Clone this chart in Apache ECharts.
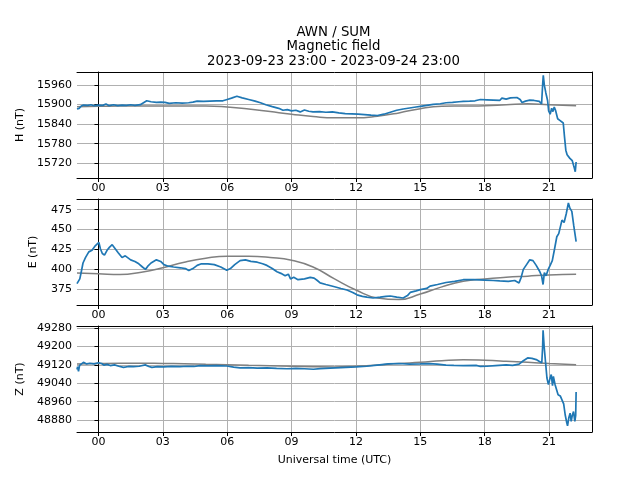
<!DOCTYPE html>
<html><head><meta charset="utf-8">
<script src="https://cdn.jsdelivr.net/npm/echarts@6/dist/echarts.min.js"></script>
<style>html,body{margin:0;padding:0;background:#fff}#c{width:640px;height:480px}</style>
</head><body><div id="c"></div>
<script>
// time in hours relative to 2023-09-24 00:00 UTC
const titleLines = ['AWN / SUM', 'Magnetic field', '2023-09-23 23:00 - 2023-09-24 23:00'];
const xTicks = [0, 3, 6, 9, 12, 15, 18, 21];
const hTicks = [15720, 15780, 15840, 15900, 15960];
const eTicks = [375, 400, 425, 450, 475];
const zTicks = [48880, 48960, 49040, 49120, 49200, 49280];

const hTimes = [-1.00,-0.95,-0.90,-0.80,-0.70,-0.62,-0.50,-0.35,-0.20,0.00,0.20,0.35,0.50,0.70,0.90,1.10,1.30,1.50,1.70,1.95,2.10,2.25,2.45,2.70,2.90,3.10,3.30,3.60,3.90,4.20,4.40,4.60,4.90,5.20,5.50,5.80,6.00,6.20,6.45,6.70,7.00,7.30,7.55,7.80,8.10,8.40,8.60,8.80,9.00,9.20,9.40,9.60,9.80,10.00,10.30,10.60,10.90,11.20,11.50,11.80,12.10,12.40,12.70,13.00,13.30,13.60,13.90,14.20,14.50,14.80,15.00,15.30,15.60,15.93,16.20,16.50,16.80,17.00,17.30,17.55,17.60,17.80,18.10,18.40,18.70,18.80,19.00,19.20,19.50,19.65,19.74,19.90,20.10,20.30,20.55,20.65,20.70,20.73,20.78,20.85,20.93,20.98,21.05,21.12,21.18,21.24,21.30,21.40,21.50,21.58,21.66,21.72,21.78,21.84,21.90,21.97,22.02,22.08,22.14,22.18,22.22,22.26];
const hValues = [15886,15892,15888,15895,15898,15903,15897,15899,15896,15898,15897,15901,15896,15899,15896,15898,15897,15899,15897,15899,15905,15911,15908,15906,15907,15906,15903,15905,15904,15905,15907,15910,15909,15910,15911,15911,15915,15919,15925,15920,15915,15910,15905,15899,15893,15888,15882,15884,15880,15882,15877,15883,15879,15877,15878,15876,15877,15874,15872,15871,15870,15869,15867,15866,15870,15876,15882,15886,15889,15892,15894,15897,15900,15902,15905,15906,15908,15909,15910,15911,15917,15915,15914,15913,15912,15919,15916,15920,15921,15915,15906,15910,15913,15912,15909,15901,15960,15989,15958,15935,15912,15880,15870,15888,15878,15892,15882,15856,15851,15848,15843,15800,15760,15746,15740,15735,15738,15728,15714,15705,15694,15724];

const eTimes = [-1.00,-0.93,-0.87,-0.80,-0.72,-0.60,-0.45,-0.30,-0.14,0.02,0.09,0.18,0.28,0.40,0.52,0.64,0.78,0.92,1.10,1.25,1.34,1.50,1.70,1.88,2.05,2.19,2.30,2.45,2.70,2.90,3.05,3.25,3.50,3.82,4.05,4.21,4.40,4.60,4.80,5.10,5.40,5.70,5.98,6.15,6.35,6.60,6.85,7.10,7.40,7.65,7.85,8.10,8.32,8.50,8.70,8.85,8.95,9.10,9.30,9.60,9.87,10.05,10.20,10.33,10.60,10.96,11.30,11.58,11.85,12.05,12.30,12.51,12.80,13.13,13.40,13.60,13.90,14.20,14.40,14.53,14.80,15.00,15.30,15.45,15.80,16.20,16.60,17.00,17.50,18.00,18.40,18.70,19.10,19.40,19.60,19.70,19.80,19.95,20.10,20.25,20.40,20.55,20.65,20.72,20.78,20.86,20.96,21.05,21.15,21.25,21.36,21.45,21.60,21.70,21.80,21.90,21.97,22.06,22.15,22.26];
const eValues = [382,384,388,397,408,415,422,424,430,434,426,420,418,424,428,431,426,421,415,417,417,412,410,407,403,400,404,408,412,410,406,404,403,402,401,398.5,401,405,407,407,406,403,399,401,406,411,412,410,409,407,405,401,397,395,392,394,388,390,387,388,390,389,386,383,381,378.5,376,374,371,368,366,365,364,365,366,366.5,365,364,367,371,373,374.5,376,379,381,383.5,385,387,387,386.5,386,385.5,385,386,383,390,400,406,412,411,405,398,392,381,396,392,400,405,411,425,441,445,462,459,470,483.5,477,473,455,435];

const zTimes = [-1.00,-0.97,-0.93,-0.88,-0.80,-0.70,-0.55,-0.40,-0.20,0.00,0.15,0.25,0.40,0.55,0.75,0.95,1.17,1.40,1.63,1.90,2.18,2.35,2.49,2.75,3.03,3.40,3.80,4.12,4.45,4.74,5.10,5.50,5.98,6.30,6.60,7.00,7.40,7.85,8.30,8.78,9.20,9.60,10.02,10.33,10.80,11.30,12.00,12.50,13.10,13.50,14.00,14.50,15.00,15.40,15.78,16.20,16.56,17.00,17.60,17.80,18.10,18.50,19.00,19.30,19.60,19.80,20.00,20.20,20.40,20.55,20.66,20.70,20.72,20.77,20.83,20.90,20.97,21.04,21.10,21.16,21.20,21.28,21.36,21.42,21.52,21.60,21.68,21.75,21.82,21.86,21.92,21.98,22.03,22.08,22.14,22.20,22.24,22.26];
const zValues = [49100,49112,49092,49118,49126,49131,49124,49127,49124,49129,49126,49119,49122,49117,49120,49114,49109,49113,49112,49114,49120,49113,49109,49112,49111,49113,49112,49114,49113,49117,49116,49117,49115,49110,49107,49108,49106,49107,49105,49103,49105,49103,49101,49104,49106,49108,49111,49114,49120,49124,49126,49123,49124,49125,49123,49119,49118,49117,49118,49113,49114,49117,49120,49118,49123,49138,49150,49148,49143,49135,49129,49200,49270,49200,49136,49063,49034,49060,49078,49030,49070,49034,49041,48990,48985,48983,48950,48903,48870,48855,48890,48910,48874,48900,48917,48874,48900,49002];

const baseTimes = [-1,0,1,2,3,4,5,6,7,8,9,10,11,12,13,14,15,16,17,18,19,20,21,22.26];
const hBase = [15893,15894,15895,15895,15895,15895,15895,15892,15886,15878,15870,15863,15859,15859,15864,15874,15887,15894,15895,15896,15899,15902,15899,15896];
const eBase = [395.5,394.5,393.5,396.5,402,409,414,416.5,416.5,415,411.5,403,388,374,364,362,369,378,385,388,390,391.5,393,394];
const zBase = [49124,49126,49127,49127,49126,49125,49123,49121,49118,49116,49114,49112,49111,49114,49119,49126,49131,49138,49142,49140,49136,49131,49126,49121];

const panels = [
  {name: 'H (nT)', ticks: hTicks, min: 15675, max: 15999, t: hTimes, v: hValues, b: hBase},
  {name: 'E (nT)', ticks: eTicks, min: 355.2, max: 488.5, t: eTimes, v: eValues, b: eBase},
  {name: 'Z (nT)', ticks: zTicks, min: 48828, max: 49289, t: zTimes, v: zValues, b: zBase}
];
const zip = (a, b) => a.map((x, i) => [x, b[i]]);
const FONT = 'DejaVu Sans';
const tops = [72, 199, 326];

const option = {
  animation: false,
  backgroundColor: '#fff',
  title: {
    text: titleLines.join('\n'), left: 328.5, top: 20, textAlign: 'center',
    textStyle: {fontFamily: FONT, fontSize: 13.3, fontWeight: 'normal', color: '#000', lineHeight: 14.5}
  },
  grid: tops.map(t => ({left: 77, right: 48, top: t, height: 106, show: false})),
  xAxis: panels.map((p, i) => ({
    type: 'value', gridIndex: i, min: -1, max: 23,
    name: i === 2 ? 'Universal time (UTC)' : '', nameLocation: 'middle', nameGap: 23,
    nameTextStyle: {fontFamily: FONT, fontSize: 11, color: '#000'},
    axisLine: {show: true, onZero: false, lineStyle: {color: '#000', width: 1}},
    axisTick: {show: true, length: 4, customValues: xTicks, lineStyle: {color: '#000'}},
    axisLabel: {customValues: xTicks, fontFamily: FONT, fontSize: 11, color: '#000', margin: 5,
      formatter: v => String(v).padStart(2, '0')},
    splitLine: {show: true, lineStyle: {color: '#b0b0b0', width: 1}}
  })),
  yAxis: panels.map((p, i) => ({
    type: 'value', gridIndex: i, min: p.min, max: p.max,
    name: p.name, nameLocation: 'middle', nameGap: 38, nameRotate: 90,
    nameTextStyle: {fontFamily: FONT, fontSize: 11, color: '#000'},
    axisLine: {show: true, lineStyle: {color: '#000', width: 1}},
    axisTick: {show: true, length: 4, customValues: p.ticks, lineStyle: {color: '#000'}},
    axisLabel: {customValues: p.ticks, fontFamily: FONT, fontSize: 11, color: '#000', margin: 5,
      formatter: v => String(v)},
    splitLine: {show: true, lineStyle: {color: '#b0b0b0', width: 1}}
  })),
  series: []
};
panels.forEach((p, i) => {
  option.series.push({
    type: 'line', xAxisIndex: i, yAxisIndex: i, data: zip(baseTimes, p.b), smooth: true,
    showSymbol: false, lineStyle: {color: '#808080', width: 1.5}, z: 2
  });
  option.series.push({
    type: 'line', xAxisIndex: i, yAxisIndex: i, data: zip(p.t, p.v),
    showSymbol: false, lineStyle: {color: '#1f77b4', width: 1.7}, z: 3
  });
});
// outer right/top frame lines via extra axes
option.xAxis = option.xAxis.concat(panels.map((p, i) => ({
  type: 'value', gridIndex: i, position: 'top', min: -1, max: 23,
  axisLine: {show: true, onZero: false, lineStyle: {color: '#000', width: 1}},
  axisTick: {show: false}, axisLabel: {show: false}, splitLine: {show: false}
})));
option.yAxis = option.yAxis.concat(panels.map((p, i) => ({
  type: 'value', gridIndex: i, position: 'right', min: p.min, max: p.max,
  axisLine: {show: true, onZero: false, lineStyle: {color: '#000', width: 1}},
  axisTick: {show: false}, axisLabel: {show: false}, splitLine: {show: false}
})));
const chart = echarts.init(document.getElementById('c'), null, {renderer: 'canvas'});
chart.setOption(option);
</script>
</body></html>
